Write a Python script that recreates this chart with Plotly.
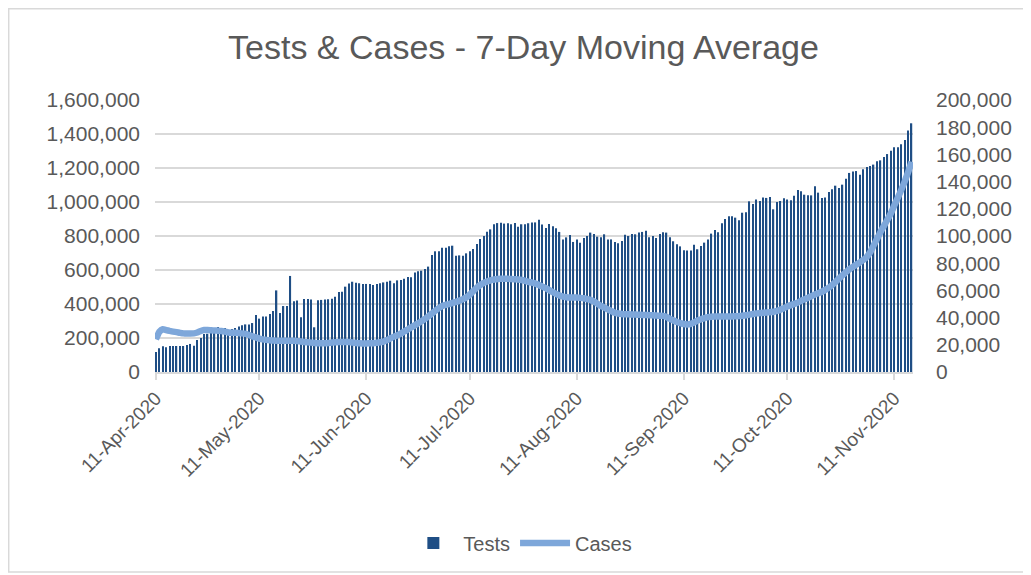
import pandas as pd
import plotly.graph_objects as go

# daily series, first day 11-Apr-2020
start_date = "2020-04-11"

tests = [
    118000, 139000, 151000, 145000, 153000, 153000, 153000, 153000, 153000, 159000,
    165000, 155000, 188000, 200000, 224000, 225000, 239000, 235000, 265000, 251000,
    259000, 245000, 253000, 259000, 267000, 275000, 280000, 280000, 288000, 335000,
    314000, 327000, 327000, 341000, 359000, 480000, 347000, 388000, 388000, 565000,
    416000, 420000, 322000, 429000, 429000, 427000, 263000, 422000, 424000, 426000,
    428000, 431000, 443000, 471000, 472000, 502000, 520000, 531000, 525000, 522000,
    518000, 518000, 518000, 512000, 518000, 522000, 527000, 531000, 537000, 522000,
    539000, 541000, 549000, 559000, 557000, 586000, 592000, 596000, 606000, 620000,
    688000, 710000, 710000, 731000, 731000, 739000, 743000, 684000, 686000, 684000,
    698000, 710000, 724000, 753000, 782000, 800000, 825000, 839000, 869000, 876000,
    878000, 873000, 875000, 869000, 876000, 855000, 869000, 869000, 875000, 880000,
    880000, 896000, 867000, 847000, 871000, 857000, 845000, 824000, 780000, 792000,
    806000, 765000, 780000, 761000, 788000, 800000, 820000, 812000, 796000, 792000,
    810000, 780000, 780000, 765000, 757000, 771000, 808000, 800000, 812000, 810000,
    820000, 824000, 831000, 792000, 800000, 788000, 812000, 822000, 820000, 792000,
    769000, 751000, 739000, 716000, 714000, 714000, 749000, 722000, 741000, 761000,
    780000, 814000, 835000, 822000, 875000, 900000, 916000, 916000, 908000, 892000,
    937000, 939000, 1004000, 988000, 1014000, 1006000, 1027000, 1024000, 1029000, 957000,
    1000000, 1006000, 1022000, 1014000, 1010000, 1037000, 1071000, 1063000, 1043000, 1039000,
    1039000, 1092000, 1055000, 1024000, 1027000, 1059000, 1075000, 1096000, 1082000, 1102000,
    1137000, 1171000, 1180000, 1182000, 1161000, 1192000, 1206000, 1212000, 1220000, 1239000,
    1245000, 1265000, 1282000, 1302000, 1322000, 1322000, 1339000, 1365000, 1420000, 1463000,
]

cases = [
    24000, 29500, 31400, 30800, 30200, 29700, 29300, 28800, 28400, 28400,
    28300, 28400, 29000, 30200, 30900, 30900, 30700, 30500, 30400, 30200,
    29700, 29100, 28900, 28800, 28600, 28400, 28000, 27200, 26200, 25400,
    24600, 24000, 23600, 23300, 23100, 23000, 23000, 23000, 23000, 23000,
    23000, 22700, 22400, 22100, 21800, 21600, 21400, 21200, 21100, 21200,
    21400, 21700, 21900, 22000, 22100, 22100, 22000, 21700, 21400, 21100,
    21000, 21000, 21100, 21200, 21500, 21900, 22400, 23500, 24800, 26000,
    27000, 28200, 29800, 31300, 32800, 34300, 35800, 37300, 39000, 41000,
    43000, 45000, 47000, 48500, 49300, 50000, 50800, 51600, 52500, 53600,
    55000, 57000, 59500, 62000, 64000, 65500, 66600, 67400, 68000, 68400,
    68600, 68600, 68500, 68400, 68200, 68000, 67600, 67000, 66300, 65700,
    65000, 64000, 62800, 61600, 60200, 58800, 57400, 56200, 55400, 55000,
    54800, 54700, 54700, 54500, 54200, 53600, 52900, 51800, 50200, 48600,
    47300, 46000, 44800, 43600, 43000, 42600, 42400, 42400, 42300, 42200,
    42100, 42000, 41900, 41800, 41700, 41500, 41400, 41300, 40500, 39000,
    37800, 36800, 36000, 35300, 35000, 35300, 36500, 37800, 38800, 39600,
    40300, 40700, 40800, 40800, 40800, 40800, 40800, 40900, 41000, 41100,
    41300, 41700, 42200, 42700, 43100, 43300, 43500, 43700, 44000, 44300,
    44900, 45800, 47000, 48200, 49200, 50100, 51000, 52400, 53500, 54600,
    55800, 57000, 58000, 59000, 60400, 62000, 64000, 66200, 68800, 71200,
    73400, 75600, 77300, 79000, 80600, 82400, 84600, 88000, 93000, 98000,
    103000, 107500, 112000, 116700, 122500, 128000, 133800, 140000, 147000, 154500,
]

tick_dates = ["2020-04-11", "2020-05-11", "2020-06-11", "2020-07-11",
              "2020-08-11", "2020-09-11", "2020-10-11", "2020-11-11"]

dates = pd.date_range(start_date, periods=len(tests), freq="D")

grey = "#595959"
font_family = "Liberation Sans, Arial, sans-serif"

fig = go.Figure()
fig.add_trace(go.Bar(
    x=dates, y=tests, name="Tests",
    marker=dict(color="#1f4e85", line=dict(width=0)),
))
fig.add_trace(go.Scatter(
    x=dates, y=cases, name="Cases", yaxis="y2", mode="lines",
    line=dict(color="#7ea7da", width=6.5, shape="spline", smoothing=0.5),
))

# the page adds an 8px body margin, so margins are set 8px smaller on top/left
fig.update_layout(
    width=1031, height=575,
    paper_bgcolor="white", plot_bgcolor="white",
    margin=dict(l=147, r=126, t=92, b=211, autoexpand=False),
    font=dict(family=font_family, color=grey, size=20),
    title=dict(text="Tests & Cases - 7-Day Moving Average",
               x=0.5, xanchor="center", y=0.932, yanchor="middle",
               font=dict(size=34, color=grey)),
    bargap=0.62,
    showlegend=True,
    legend=dict(orientation="h", x=0.482, xanchor="center", y=-0.629, yanchor="middle",
                font=dict(size=20, color=grey), itemwidth=50, tracegroupgap=0),
    xaxis=dict(
        type="date", automargin=False,
        range=["2020-04-10 18:00", "2020-11-16 10:00"],
        tickvals=tick_dates, tickformat="%d-%b-%Y", tickangle=-45,
        ticks="outside", ticklen=6, tickcolor="#d9d9d9", tickwidth=1.5,
        showline=True, linecolor="#d9d9d9", linewidth=1.5,
        showgrid=False, tickfont=dict(size=19, color=grey),
    ),
    yaxis=dict(
        automargin=False,
        range=[0, 1600000], dtick=200000, tickformat=",",
        showgrid=True, gridcolor="#d9d9d9", gridwidth=1.5,
        zeroline=False, showline=False, ticks="",
        ticklabelstandoff=14, tickfont=dict(size=21, color=grey),
    ),
    yaxis2=dict(
        automargin=False,
        range=[0, 200000], dtick=20000, tickformat=",",
        overlaying="y", side="right", showgrid=False, zeroline=False,
        showline=False, ticks="", ticklabelstandoff=22,
        tickfont=dict(size=21, color=grey),
    ),
    shapes=[dict(type="rect", xref="paper", yref="paper",
                 x0=-0.193, x1=1.1517, y0=-0.735, y1=1.3355,
                 line=dict(color="#d9d9d9", width=1.5), fillcolor="rgba(0,0,0,0)",
                 layer="below")],
)

fig.write_html("out.html")
